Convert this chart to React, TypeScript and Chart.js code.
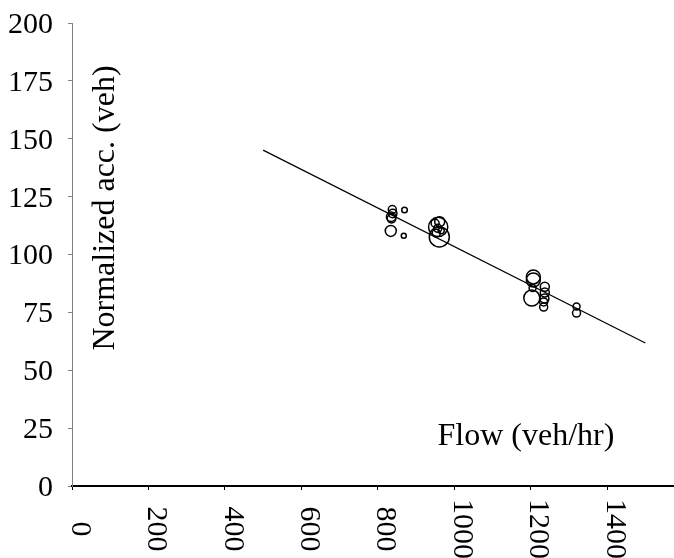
import React, { useEffect, useRef } from "react";
import { Chart, registerables } from "chart.js";

Chart.register(...registerables);

// Bubble data: flow (veh/hr), normalized accumulation (veh), bubble radius (px)
const flowX = [
  838, 870, 839, 835, 836, 834, 868,
  958, 961, 950, 957, 966, 953, 962,
  1207, 1207, 1205, 1203, 1237, 1237, 1236, 1234, 1234, 1320, 1320,
];
const accY = [
  119.4, 119.2, 117.7, 116.3, 115.5, 110.2, 108.1,
  111.9, 107.6, 113.5, 111.3, 110.3, 109.2, 114.2,
  90.3, 89.0, 85.5, 81.2, 86.1, 83.6, 81.0, 79.5, 77.3, 77.5, 74.7,
];
const bubbleR = [
  4, 2.8, 4.3, 4.7, 4.3, 5.5, 2.5,
  9.6, 10, 4, 4, 3, 4, 5,
  7, 7, 3.5, 8, 4.5, 4.5, 4.5, 4, 4, 3.5, 4,
];

// Linear trend line end points
const fitX = [500, 1500];
const fitY = [145.1, 61.8];

// Tick labels
const xTicks = [0, 200, 400, 600, 800, 1000, 1200, 1400];
const yTicks = [0, 25, 50, 75, 100, 125, 150, 175, 200];

const yTitle = "Normalized acc. (veh)";
const xTitle = "Flow (veh/hr)";

const FAMILY = "'Times New Roman', 'Liberation Serif', serif";
const TITLE_FONT = "32px " + FAMILY;
const TICK_FONT = "30px " + FAMILY;

export default function App() {
  const ref = useRef<HTMLCanvasElement | null>(null);

  useEffect(() => {
    if (!ref.current) return;

    const labelPlugin = {
      id: "labelPlugin",
      afterDraw(chart: any) {
        const ctx = chart.ctx as CanvasRenderingContext2D;
        const xs = chart.scales.x;
        const ys = chart.scales.y;
        ctx.save();
        ctx.fillStyle = "#000";
        ctx.font = TICK_FONT;
        // y tick labels
        ctx.textAlign = "right";
        ctx.textBaseline = "middle";
        ys.ticks.forEach((t: any) => {
          const py = ys.getPixelForValue(t.value);
          ctx.fillText(String(t.value), 53, py + 2);
        });
        // x tick labels, rotated clockwise
        xs.ticks.forEach((t: any) => {
          const px = xs.getPixelForValue(t.value);
          ctx.save();
          ctx.translate(px + 7.5, chart.chartArea.bottom + 43);
          ctx.rotate(Math.PI / 2);
          ctx.textAlign = "center";
          ctx.textBaseline = "middle";
          ctx.fillText(String(t.value), 0, 0);
          ctx.restore();
        });
        ctx.font = TITLE_FONT;
        // y title inside plot
        ctx.save();
        ctx.translate(106, 208);
        ctx.rotate(-Math.PI / 2);
        ctx.textAlign = "center";
        ctx.textBaseline = "middle";
        ctx.fillText(yTitle, 0, 0);
        ctx.restore();
        // x title inside plot
        ctx.textAlign = "center";
        ctx.textBaseline = "middle";
        ctx.fillText(xTitle, 526, 437);
        ctx.restore();
      },
    };

    const chart = new Chart(ref.current, {
      type: "bubble",
      data: {
        datasets: [
          {
            type: "bubble",
            data: flowX.map((x, i) => ({ x, y: accY[i], r: bubbleR[i] })),
            backgroundColor: "rgba(0,0,0,0)",
            borderColor: "#000",
            borderWidth: 1.5,
          } as any,
          {
            type: "line",
            data: fitX.map((x, i) => ({ x, y: fitY[i] })),
            borderColor: "#000",
            borderWidth: 1.2,
            pointRadius: 0,
            fill: false,
            tension: 0,
          } as any,
        ],
      },
      options: {
        responsive: false,
        animation: false,
        layout: { autoPadding: false, padding: { left: 68, top: 23, right: 0, bottom: 68 } },
        plugins: {
          legend: { display: false },
          tooltip: { enabled: false },
          title: { display: false },
        },
        scales: {
          x: {
            type: "linear",
            min: 0,
            max: 1575,
            afterBuildTicks: (scale: any) => {
              scale.ticks = xTicks.map((v) => ({ value: v }));
            },
            ticks: { display: false },
            grid: {
              display: true,
              drawOnChartArea: false,
              drawTicks: true,
              tickLength: 4,
              color: "#000",
              lineWidth: 1,
            },
            border: { display: true, color: "#000", width: 2 },
          },
          y: {
            type: "linear",
            min: 0,
            max: 200,
            afterBuildTicks: (scale: any) => {
              scale.ticks = yTicks.map((v) => ({ value: v }));
            },
            ticks: { display: false },
            grid: {
              display: true,
              drawOnChartArea: false,
              drawTicks: true,
              tickLength: 4,
              color: "#808080",
              lineWidth: 1,
            },
            border: { display: true, color: "#808080", width: 1 },
          },
        },
      },
      plugins: [labelPlugin],
    } as any);

    return () => chart.destroy();
  }, []);

  return (
    <div style={{ position: "absolute", left: 0, top: 0, width: 674, height: 558, background: "#fff" }}>
      <canvas ref={ref} width={674} height={558} style={{ display: "block" }} />
    </div>
  );
}
